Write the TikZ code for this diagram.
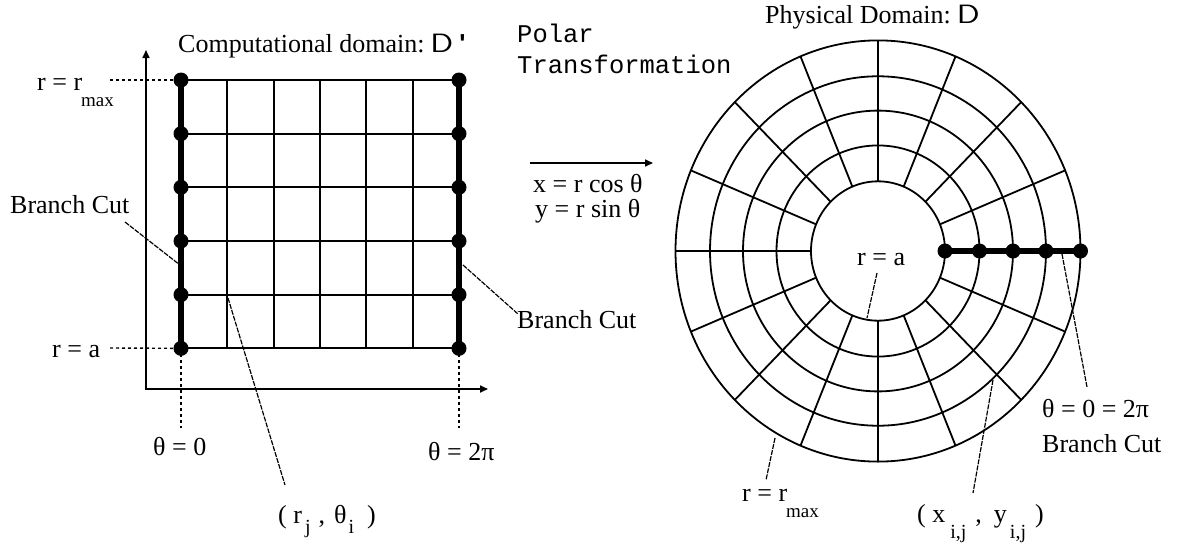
\documentclass[tikz,border=0pt]{standalone}
\usepackage{fontspec}
\setmainfont{Liberation Serif}
\setmonofont{Liberation Mono}
\newfontfamily\arialfont{Liberation Sans}
\usetikzlibrary{arrows.meta}
\newcommand{\subsz}{\fontsize{19}{19}\selectfont}
\newcommand{\subsm}{\fontsize{20}{20}\selectfont}
\newcommand{\wideD}{{\sffamily\scalebox{1.3}[1.02]{D}}}
\begin{document}
\begin{tikzpicture}[x=1pt,y=-1pt,
  font=\fontsize{26}{30}\selectfont,
  gridline/.style={line width=1.8pt},
  cutline/.style={line width=6.5pt},
  dotnode/.style={circle,fill,inner sep=0pt,minimum size=15pt},
  leader/.style={line width=1.2pt,dash pattern=on 5pt off 1.2pt},
  guide/.style={line width=1.4pt,dash pattern=on 3pt off 3pt},
  lbl/.style={anchor=base west,inner sep=0pt},
  tip/.style={-{Triangle[length=8pt,width=7pt]}}]
\useasboundingbox (0,0) rectangle (1180,552);

% ---------- left: computational domain ----------
\foreach \j in {0,...,5}{
  \draw[gridline] (181,{80+\j*53.67}) -- (459,{80+\j*53.67});
}
\foreach \i in {1,...,5}{
  \draw[gridline] ({181+\i*46.33},80) -- ({181+\i*46.33},348);
}
\draw[cutline] (181,80) -- (181,348);
\draw[cutline] (459,80) -- (459,348);
\foreach \j in {0,...,5}{
  \node[dotnode] (L\j) at (181,{80+\j*53.67}) {};
  \node[dotnode] (R\j) at (459,{80+\j*53.67}) {};
}
% axes
\coordinate (orig) at (146,389);
\coordinate (ytip) at (146,50);
\coordinate (xtip) at (488,389);
\draw[line width=1.6pt,{Triangle[length=8pt,width=7pt]}-{Triangle[length=8pt,width=7pt]}] (ytip) -- (orig) -- (xtip);

% guides
\coordinate (gmax) at (110,80);
\coordinate (ga) at (110,348);
\coordinate (g0) at (181,428);
\coordinate (g2) at (459,428);
\draw[guide] (gmax) -- (L0.center);
\draw[guide] (ga) -- (L5.center);
\draw[guide] (L5.center) -- (g0);
\draw[guide] (R5.center) -- (g2);

% labels left
\node[lbl] (title) at (178,52) {Computational domain:\hspace{6pt}\wideD\hspace{6pt}{\arialfont\bfseries\symbol{39}}};
\node[lbl] (rmaxl) at (37,90) {r = r\kern-1pt\raisebox{-16pt}{\subsz max}};
\node[lbl] (bcl) at (10,213) {Branch Cut};
\node[lbl] (ral) at (52,357) {r = a};
\node[lbl] (th0) at (153,455) {θ = 0};
\node[lbl] (th2pi) at (428,460) {θ = 2π};
\node[lbl] (rjti) at (278,523) {( r\hspace{3pt}\raisebox{-10pt}{\subsm j}\hspace{8pt},\hspace{9pt}θ\hspace{2pt}\raisebox{-10pt}{\subsm i}\hspace{13pt})};
\node[lbl] (bcr) at (517,328) {Branch Cut};

\coordinate (lb1) at (125,222);
\coordinate (lb2) at (180,265);
\draw[leader] (lb1) -- (lb2);
\coordinate (rb1) at (463,265);
\coordinate (rb2) at (518,314);
\draw[leader] (rb1) -- (rb2);
\coordinate (rt1) at (228,298);
\coordinate (rt2) at (285,485);
\draw[leader] (rt1) -- (rt2);

% ---------- middle ----------
\node[lbl,font=\fontsize{25.5}{30}\selectfont\ttfamily] (polar) at (517,42) {Polar};
\node[lbl,font=\fontsize{25.5}{30}\selectfont\ttfamily] (transf) at (517,73) {Transformation};
\coordinate (a1) at (530,163);
\coordinate (a2) at (653,163);
\draw[line width=1.6pt,tip] (a1) -- (a2);
\node[lbl] (eqx) at (533,192) {x = r cos θ};
\node[lbl] (eqy) at (535,217) {y = r sin θ};

% ---------- right: physical domain ----------
\coordinate (C) at (878,251);
\foreach \r in {67,101.5,135,168,202.5}{
  \draw[gridline] (C) ellipse [x radius=\r pt, y radius=1.04*\r pt];
}
\foreach \a in {22.5,45,...,337.5}{
  \draw[gridline] ({878+67*cos(\a)},{251-1.04*67*sin(\a)}) -- ({878+202.5*cos(\a)},{251-1.04*202.5*sin(\a)});
}
\draw[cutline] (945,251) -- (1080.5,251);
\foreach \r [count=\k] in {67,101.5,135,168,202.5}{
  \node[dotnode] (P\k) at ({878+\r},251) {};
}

\node[lbl] (phys) at (765,23) {Physical Domain:\hspace{6pt}\wideD};
\node[lbl] (rar) at (857,265) {r = a};
\node[lbl] (rmaxr) at (742,501) {r = r\kern-1pt\raisebox{-16pt}{\subsz max}};
\node[lbl] (xyij) at (917,522) {( x\hspace{5pt}\raisebox{-16pt}{\subsm i,j}\hspace{9pt},\hspace{12pt}y\hspace{3pt}\raisebox{-16pt}{\subsm i,j}\hspace{9pt})};
\node[lbl] (th02pi) at (1042,417) {θ = 0 = 2π};
\node[lbl] (bcr2) at (1042,452) {Branch Cut};

\coordinate (ra1) at (877,273);
\coordinate (ra2) at (867,318);
\draw[leader] (ra1) -- (ra2);
\coordinate (rm1) at (775,438);
\coordinate (rm2) at (766,480);
\draw[leader] (rm1) -- (rm2);
\coordinate (xy1) at (993,380);
\coordinate (xy2) at (973,493);
\draw[leader] (xy1) -- (xy2);
\coordinate (bc1) at (1062,254);
\coordinate (bc2) at (1087,387);
\draw[leader] (bc1) -- (bc2);
\end{tikzpicture}
\end{document}
